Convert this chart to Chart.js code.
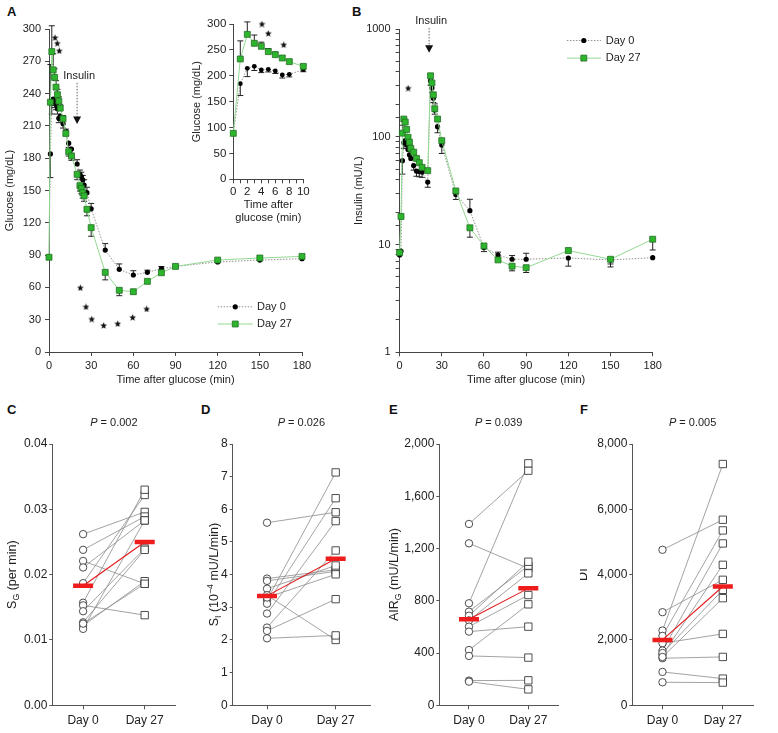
<!DOCTYPE html>
<html><head><meta charset="utf-8">
<script src="https://cdn.jsdelivr.net/npm/chart.js@4.4.0/dist/chart.umd.min.js"></script>
<style>
body{margin:0;width:778px;height:733px;background:#fff;position:relative;overflow:hidden;font-family:"Liberation Sans",Arial,sans-serif;}
canvas{position:absolute;}
.lbl{position:absolute;font-weight:bold;font-size:13px;line-height:13px;color:#111;}
</style></head><body>
<div class="lbl" style="left:7px;top:5px">A</div>
<div class="lbl" style="left:352px;top:5px">B</div>
<div class="lbl" style="left:7px;top:403px">C</div>
<div class="lbl" style="left:201px;top:403px">D</div>
<div class="lbl" style="left:389px;top:403px">E</div>
<div class="lbl" style="left:580px;top:403px">F</div>
<script>
// ---------------- DATA ----------------
const timeMin = [0,1,2,3,4,5,6,7,8,10,12,14,16,20,22,23,24,25,27,30,40,50,60,70,80,90,120,150,180];
const glucoseDay0  = [88,184,233,235,232,230,226,217,219,212,205,194,188.5,174.6,165,163,160,155,148,133,94.7,76.8,71.5,74,77.4,79.5,83.6,85.4,86.6];
const glucoseDay27 = [88,232,279,262,255,246,239,233,226.5,216.6,203,186,182,165,154.5,152,148,145,132.5,115.5,74,57.3,56,65.6,73.6,79.5,85.4,87.3,88.8];
const glucoseErrDay0  = [0,-22,-12,-6,-5,-5,-5,-4,-4,-4,-4,-4,-4,4,4,4,4,5,5,5,6,5,4,2,2,0,0,0,0];
const glucoseErrDay27 = [0,35,24,15,8,6,5,4,3,3,4,-4,-4,-5,-5,-5,-5,-5,-6,-8,-7,-5,-2,0,0,0,0,0,0];
const glucoseStarTime  = [4.3,5.9,7.3,22.3,26.3,30.4,38.9,48.9,59.5,69.5];
const glucoseStarValue = [292,286.8,279.8,59.7,42,30.6,24.7,26.3,32.2,40];

const insetTime = [0,1,2,3,4,5,6,7,8,10];
const insetDay0  = [88.8,184.8,214.4,218.2,211.1,212.4,209.3,201.6,202.8,211.8];
const insetDay27 = [88.8,232.4,280,262.7,256.9,246.6,240.8,234.3,227.3,218.2];
const insetErrDay0  = [0,-23,-16,-8,-5,-5,-5,-6,-5,-4];
const insetErrDay27 = [0,35,24,16,8,6,5,4,3,3];
const insetStarTime = [4.1,5,7.2];
const insetStarValue = [300,282,260];

const insulinDay0  = [8.0,8.7,60,88,92,84,76,68,63,54,48,47.5,47,38,331,283,228,177,124,84,29.2,20.6,9.4,8.0,7.3,7.3,7.5,7.2,7.55];
const insulinDay27 = [8.4,18.2,108,146,137,117,99,89,78,72,63,57.5,52,48.5,368,316,245,182,146,92,31.4,14.3,9.7,7.2,6.3,6.1,8.8,7.3,11.2];
const insulinErrDay0  = [0,0,-15,-10,0,0,0,0,0,-5,-5,-5,-5,-4,-30,-25,-20,-15,-15,-14,-3,5.7,-0.8,0.5,0.6,1.0,-1.2,-0.6,0];
const insulinErrDay27 = [0,0,20,0,0,0,0,0,0,0,0,0,0,0,0,0,0,20,0,0,0,-2.6,0,0,-0.6,-0.6,0,-1.1,-2.3];
const insulinStarTime = [6.1];
const insulinStarValue = [283];
const insulinInjectionTime = 20;

const dayLabels = ['Day 0','Day 27'];
const sgDay0  = [0.0262,0.0238,0.0221,0.0211,0.0187,0.0157,0.0153,0.0144,0.0127,0.0122,0.0117,0.0125];
const sgDay27 = [0.0296,0.0289,0.0186,0.0283,0.0322,0.0330,0.0138,0.0240,0.0238,0.0190,0.0283,0.0186];
const sgMean  = [0.0183,0.0250];
const siDay0  = [5.59,3.88,3.81,3.57,3.37,3.22,3.11,2.81,2.38,2.28,2.05,3.30];
const siDay27 = [5.91,4.15,4.10,4.28,2.00,7.13,6.34,5.64,4.74,3.25,2.14,4.01];
const siMean  = [3.35,4.49];
const airDay0  = [1388,1240,781,717,686,650,602,564,423,378,189,181];
const airDay27 = [1796,1048,1852,1069,1099,1010,844,602,773,365,191,122];
const airMean  = [658,895];
const diDay0  = [4761,2851,2289,2125,1900,1676,1543,1440,1600,1480,1022,705];
const diDay27 = [5681,3842,7387,5354,2186,4955,4301,1481,3535,3280,817,695];
const diMean  = [2003,3637];

// ---------------- HELPERS ----------------
const FONT = '"Liberation Sans", Arial, sans-serif';
Chart.defaults.font.family = FONT;
Chart.defaults.color = '#222';
const AX = '#444';

function makeCanvas(b){
  const c = document.createElement('canvas');
  c.width = b.w; c.height = b.h;
  c.style.left = b.x+'px'; c.style.top = b.y+'px';
  c.style.width = b.w+'px'; c.style.height = b.h+'px';
  document.body.appendChild(c);
  return c;
}
const pairs = (xs, ys) => xs.map((x,i)=>({x, y: ys[i]}));

function starImage(size){
  const c = document.createElement('canvas'); c.width = c.height = size;
  const g = c.getContext('2d'); g.fillStyle = '#111'; g.beginPath();
  const cx=size/2, cy=size/2+0.3, R=size/2, r=R*0.45;
  for(let i=0;i<10;i++){const a=-Math.PI/2+i*Math.PI/5, rr=i%2?r:R; g.lineTo(cx+rr*Math.cos(a), cy+rr*Math.sin(a));}
  g.closePath(); g.fill(); return c;
}
const STAR = starImage(7);

const errorBars = {
  id:'errorBars',
  beforeDatasetsDraw(chart){
    const ctx = chart.ctx;
    chart.data.datasets.forEach((ds,i)=>{
      if(!ds.errors) return;
      const meta = chart.getDatasetMeta(i);
      const ys = chart.scales[meta.yAxisID];
      ctx.save(); ctx.strokeStyle = '#222'; ctx.lineWidth = 1;
      meta.data.forEach((pt,j)=>{
        const e = ds.errors[j]; if(!e) return;
        const y1 = ys.getPixelForValue(ds.data[j].y + e);
        ctx.beginPath(); ctx.moveTo(pt.x, pt.y); ctx.lineTo(pt.x, y1);
        ctx.moveTo(pt.x-3, y1); ctx.lineTo(pt.x+3, y1); ctx.stroke();
      });
      ctx.restore();
    });
  }
};

function drawMark(ctx, ds, x, y){
  ctx.save();
  ctx.fillStyle = ds.pointBackgroundColor; ctx.strokeStyle = ds.pointBorderColor; ctx.lineWidth = ds.pointBorderWidth||0;
  ctx.beginPath();
  if(ds.pointStyle==='rect'){const s = ds.pointRadius*Math.SQRT1_2; ctx.rect(x-s,y-s,2*s,2*s);}
  else ctx.arc(x,y,ds.pointRadius,0,Math.PI*2);
  ctx.fill(); if(ds.pointBorderWidth) ctx.stroke();
  ctx.restore();
}

const inlineLegend = {
  id:'inlineLegend',
  afterDatasetsDraw(chart, args, o){
    if(!o || !o.items) return;
    const {ctx, scales:{x, y}} = chart;
    const x0 = x.getPixelForValue(o.x0), x1 = x.getPixelForValue(o.x1), xm = x.getPixelForValue(o.xMark), xt = x.getPixelForValue(o.xText);
    o.items.forEach(it=>{
      const ds = chart.data.datasets[it.ds];
      const py = y.getPixelForValue(it.y);
      ctx.save();
      ctx.strokeStyle = ds.borderColor; ctx.lineWidth = ds.borderWidth; ctx.setLineDash(ds.borderDash||[]);
      ctx.beginPath(); ctx.moveTo(x0,py); ctx.lineTo(x1,py); ctx.stroke();
      ctx.restore();
      drawMark(ctx, ds, xm, py);
      ctx.save(); ctx.fillStyle='#222'; ctx.font = '11px '+FONT; ctx.textBaseline='middle'; ctx.textAlign='left';
      ctx.fillText(ds.label, xt, py); ctx.restore();
    });
  }
};

const insulinMarker = {
  id:'insulinMarker',
  afterDatasetsDraw(chart, args, o){
    if(!o || o.x===undefined) return;
    const {ctx, scales:{x, y}} = chart;
    const px = x.getPixelForValue(o.x), ly = y.getPixelForValue(o.labelY), ty = y.getPixelForValue(o.tipY);
    ctx.save();
    ctx.fillStyle='#222'; ctx.font='11px '+FONT; ctx.textAlign='center'; ctx.textBaseline='middle';
    ctx.fillText('Insulin', px+2, ly);
    ctx.strokeStyle='#666'; ctx.lineWidth=1; ctx.setLineDash([1.5,1.5]);
    ctx.beginPath(); ctx.moveTo(px, ly+7); ctx.lineTo(px, ty-7); ctx.stroke();
    ctx.setLineDash([]); ctx.fillStyle='#111';
    ctx.beginPath(); ctx.moveTo(px-4, ty-7.5); ctx.lineTo(px+4, ty-7.5); ctx.lineTo(px, ty); ctx.closePath(); ctx.fill();
    ctx.restore();
  }
};

function drawRuns(ctx, runs, size, cx, cy){
  const fontFor = r => (r.italic?'italic ':'') + (r.sub||r.sup ? size*0.7 : size) + 'px ' + FONT;
  let total = 0;
  runs.forEach(r=>{ctx.font = fontFor(r); total += ctx.measureText(r.t).width;});
  let x = cx - total/2;
  runs.forEach(r=>{
    ctx.font = fontFor(r);
    ctx.fillText(r.t, x, cy + (r.sub ? size*0.25 : (r.sup ? -size*0.35 : 0)));
    x += ctx.measureText(r.t).width;
  });
}
const richText = {
  id:'richText',
  afterDraw(chart, args, o){
    if(!o || !o.items) return;
    const {ctx, chartArea:a} = chart;
    o.items.forEach(it=>{
      ctx.save(); ctx.fillStyle='#222'; ctx.textBaseline='middle'; ctx.textAlign='left';
      if(it.rotate){
        ctx.translate(it.x, (a.top+a.bottom)/2); ctx.rotate(-Math.PI/2);
        drawRuns(ctx, it.runs, it.size, 0, 0);
      } else {
        drawRuns(ctx, it.runs, it.size, (a.left+a.right)/2, a.top + it.dy);
      }
      ctx.restore();
    });
  }
};

function axisStyle(extra){
  return Object.assign({
    grid:{drawOnChartArea:false, drawTicks:true, tickLength:4, color:AX},
    border:{display:true, color:AX, width:1}
  }, extra);
}
function layoutFor(box, area){
  return {
    pad:{left:0, top:area.t-box.y, right:box.x+box.w-area.r, bottom:0},
    yW: area.l-box.x, xH: box.y+box.h-area.b
  };
}

// ---------------- PANEL A (main) ----------------
(function(){
  const box={x:0,y:0,w:352,h:400}, area={l:49,t:29,r:302,b:352};
  const L = layoutFor(box, area);
  new Chart(makeCanvas(box), {
    type:'line',
    data:{datasets:[
      {label:'Day 27', data:pairs(timeMin, glucoseDay27), errors:glucoseErrDay27, borderColor:'#93d893', borderWidth:1,
       pointStyle:'rect', pointRadius:4.2, pointBackgroundColor:'#2db52d', pointBorderColor:'#246e24', pointBorderWidth:0.8, order:2, clip:false},
      {label:'Day 0', data:pairs(timeMin, glucoseDay0), errors:glucoseErrDay0, borderColor:'#777', borderDash:[1.5,1.5], borderWidth:0.8,
       pointStyle:'circle', pointRadius:2.6, pointBackgroundColor:'#000', pointBorderColor:'#000', pointBorderWidth:0, order:3, clip:false},
      {label:'stars', data:pairs(glucoseStarTime, glucoseStarValue), showLine:false, pointStyle:STAR, pointRadius:3.5, order:1, clip:false}
    ]},
    options:{
      responsive:false, devicePixelRatio:1, animation:false, events:[],
      layout:{padding:L.pad},
      plugins:{legend:{display:false}, tooltip:{enabled:false},
        inlineLegend:{x0:120, x1:145, xMark:132.5, xText:148, items:[{ds:1,y:42},{ds:0,y:26}]},
        insulinMarker:{x:insulinInjectionTime, labelY:256.5, tipY:211.7}},
      scales:{
        x:axisStyle({type:'linear', min:0, max:180, ticks:{stepSize:30, font:{size:11}, padding:3, maxRotation:0},
          title:{display:true, text:'Time after glucose (min)', font:{size:11}, padding:{top:0,bottom:13.4}},
          afterFit(s){s.height=L.xH;}}),
        y:axisStyle({type:'linear', min:0, max:300, ticks:{stepSize:30, font:{size:11}, padding:4},
          title:{display:true, text:'Glucose (mg/dL)', font:{size:11}, padding:{top:3.4,bottom:0}},
          afterFit(s){s.width=L.yW;}})
      }
    },
    plugins:[errorBars, inlineLegend, insulinMarker]
  });
})();

// ---------------- PANEL A (inset) ----------------
(function(){
  const box={x:186,y:0,w:130,h:230}, area={l:233.3,t:24,r:303.3,b:179.3};
  const L = layoutFor(box, area);
  new Chart(makeCanvas(box), {
    type:'line',
    data:{datasets:[
      {label:'Day 27', data:pairs(insetTime, insetDay27), errors:insetErrDay27, borderColor:'#93d893', borderWidth:1,
       pointStyle:'rect', pointRadius:4.2, pointBackgroundColor:'#2db52d', pointBorderColor:'#246e24', pointBorderWidth:0.8, order:2, clip:false},
      {label:'Day 0', data:pairs(insetTime, insetDay0), errors:insetErrDay0, borderColor:'#777', borderDash:[1.5,1.5], borderWidth:0.8,
       pointStyle:'circle', pointRadius:2.4, pointBackgroundColor:'#000', pointBorderColor:'#000', pointBorderWidth:0, order:3, clip:false},
      {label:'stars', data:pairs(insetStarTime, insetStarValue), showLine:false, pointStyle:STAR, pointRadius:3.5, order:1, clip:false}
    ]},
    options:{
      responsive:false, devicePixelRatio:1, animation:false, events:[],
      layout:{padding:L.pad},
      plugins:{legend:{display:false}, tooltip:{enabled:false}},
      scales:{
        x:axisStyle({type:'linear', min:0, max:10, ticks:{stepSize:1, font:{size:11.5}, padding:2, maxRotation:0, autoSkip:false,
            callback:v => v%2===0 ? String(v) : ''},
          title:{display:true, text:['Time after','glucose (min)'], font:{size:11}, padding:{top:0,bottom:5.2}},
          afterFit(s){s.height=L.xH;}}),
        y:axisStyle({type:'linear', min:0, max:300, ticks:{stepSize:50, font:{size:11.5}, padding:3},
          title:{display:true, text:'Glucose (mg/dL)', font:{size:11}, padding:{top:4.1,bottom:0}},
          afterFit(s){s.width=L.yW;}})
      }
    },
    plugins:[errorBars]
  });
})();

// ---------------- PANEL B ----------------
(function(){
  const box={x:352,y:0,w:426,h:400}, area={l:399.6,t:29,r:652.7,b:352.3};
  const L = layoutFor(box, area);
  new Chart(makeCanvas(box), {
    type:'line',
    data:{datasets:[
      {label:'Day 27', data:pairs(timeMin, insulinDay27), errors:insulinErrDay27, borderColor:'#93d893', borderWidth:1,
       pointStyle:'rect', pointRadius:4.2, pointBackgroundColor:'#2db52d', pointBorderColor:'#246e24', pointBorderWidth:0.8, order:2, clip:false},
      {label:'Day 0', data:pairs(timeMin, insulinDay0), errors:insulinErrDay0, borderColor:'#777', borderDash:[1.5,1.5], borderWidth:0.8,
       pointStyle:'circle', pointRadius:2.6, pointBackgroundColor:'#000', pointBorderColor:'#000', pointBorderWidth:0, order:3, clip:false},
      {label:'stars', data:pairs(insulinStarTime, insulinStarValue), showLine:false, pointStyle:STAR, pointRadius:3.5, order:1, clip:false}
    ]},
    options:{
      responsive:false, devicePixelRatio:1, animation:false, events:[],
      layout:{padding:L.pad},
      plugins:{legend:{display:false}, tooltip:{enabled:false},
        inlineLegend:{x0:119, x1:143.2, xMark:131, xText:146.6, items:[{ds:1,y:782},{ds:0,y:537}]},
        insulinMarker:{x:21, labelY:1186, tipY:601}},
      scales:{
        x:axisStyle({type:'linear', min:0, max:180, ticks:{stepSize:30, font:{size:11}, padding:3, maxRotation:0},
          title:{display:true, text:'Time after glucose (min)', font:{size:11}, padding:{top:0,bottom:13.4}},
          afterFit(s){s.height=L.xH;}}),
        y:axisStyle({type:'logarithmic', min:1, max:1000,
          ticks:{font:{size:11}, padding:5, autoSkip:false, callback:v => [1,10,100,1000].includes(v) ? String(v) : ''},
          title:{display:true, text:'Insulin (mU/L)', font:{size:11}, padding:{top:0.4,bottom:0}},
          afterFit(s){s.width=L.yW;}})
      }
    },
    plugins:[errorBars, inlineLegend, insulinMarker]
  });
})();

// ---------------- PANELS C-F ----------------
function pairedPanel(box, area, d0, d27, mean, yOpt, titleRuns, titleX, pText){
  const L = layoutFor(box, area);
  const subjectLines = d0.map((v,i)=>({data:[v, d27[i]], borderColor:'#8c8c8c', borderWidth:0.8, pointRadius:0, order:4}));
  const datasets = subjectLines.concat([
    {data:d0.map(v=>({x:dayLabels[0], y:v})), showLine:false, pointStyle:'circle', pointRadius:3.7,
     pointBackgroundColor:'#fff', pointBorderColor:'#3a3a3a', pointBorderWidth:0.9, order:3},
    {data:d27.map(v=>({x:dayLabels[1], y:v})), showLine:false, pointStyle:'rect', pointRadius:5.2,
     pointBackgroundColor:'#fff', pointBorderColor:'#3a3a3a', pointBorderWidth:0.9, order:2},
    {data:mean, borderColor:'#e3191c', borderWidth:1.1, pointStyle:'line', pointRadius:10,
     pointBorderColor:'#ee1c1c', pointBorderWidth:4.5, order:1}
  ]);
  new Chart(makeCanvas(box), {
    type:'line',
    data:{labels:dayLabels, datasets},
    options:{
      responsive:false, devicePixelRatio:1, animation:false, events:[],
      layout:{padding:L.pad},
      plugins:{legend:{display:false}, tooltip:{enabled:false},
        richText:{items:[
          {runs:titleRuns, size:12.5, rotate:true, x:titleX-box.x},
          {runs:[{t:'P', italic:true},{t:' = '+pText}], size:11, dy:-21}
        ]}},
      scales:{
        x:{type:'category', offset:true, grid:{offset:false, drawOnChartArea:false, tickLength:4, color:'#555'},
           border:{display:true, color:'#555'}, ticks:{font:{size:12}, padding:4, maxRotation:0},
           afterFit(s){s.height=L.xH;}},
        y:{type:'linear', min:0, max:yOpt.max, grid:{drawOnChartArea:false, tickLength:3, color:'#555'},
           border:{display:true, color:'#555'},
           ticks:{stepSize:yOpt.step, font:{size:12}, padding:2, callback:yOpt.fmt},
           afterFit(s){s.width=L.yW;}}
      }
    },
    plugins:[richText]
  });
}
const comma = v => v.toLocaleString('en-US');
pairedPanel({x:0,y:410,w:190,h:323},{l:52.3,t:444,r:182,b:705.3}, sgDay0, sgDay27, sgMean,
  {max:0.04, step:0.01, fmt:v=>v.toFixed(2)}, [{t:'S'},{t:'G',sub:true},{t:' (per min)'}], 13, '0.002');
pairedPanel({x:190,y:410,w:195,h:323},{l:232.7,t:444,r:370,b:705.3}, siDay0, siDay27, siMean,
  {max:8, step:1, fmt:v=>String(v)}, [{t:'S'},{t:'I',sub:true},{t:' (10'},{t:'\u22124',sup:true},{t:' mU/L/min)'}], 215, '0.026');
pairedPanel({x:385,y:410,w:195,h:323},{l:439.3,t:444,r:558,b:705.3}, airDay0, airDay27, airMean,
  {max:2000, step:400, fmt:comma}, [{t:'AIR'},{t:'G',sub:true},{t:' (mU/L/min)'}], 395, '0.039');
pairedPanel({x:580,y:410,w:198,h:323},{l:632.3,t:444,r:753,b:705.3}, diDay0, diDay27, diMean,
  {max:8000, step:2000, fmt:comma}, [{t:'DI'}], 584, '0.005');
</script>
</body></html>
